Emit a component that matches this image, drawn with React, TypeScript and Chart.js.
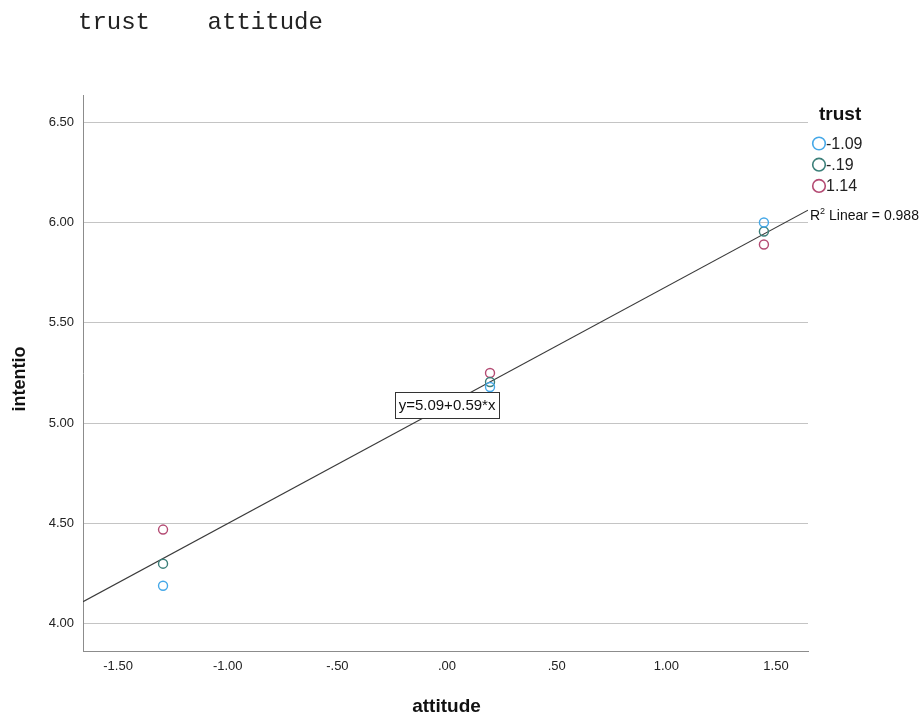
import React, { useEffect, useRef } from "react";
import { Chart, registerables } from "chart.js";

Chart.register(...registerables);

const headerText = "trust    attitude";
const xTitle = "attitude";
const yTitle = "intentio";
const legendTitle = "trust";
const attitudeValues = [-1.295, 0.196, 1.445];
const trustLabels = ["-1.09", "-.19", "1.14"];
const intentLowTrust = [4.19, 5.18, 6.0];
const intentMidTrust = [4.3, 5.205, 5.955];
const intentHighTrust = [4.47, 5.25, 5.89];
const seriesColors = ["#45a8e8", "#3b7f79", "#b44b73"];
const fitIntercept = 5.09;
const fitSlope = 0.59;
const fitR2 = "0.988";
const xTickValues = [-1.5, -1.0, -0.5, 0, 0.5, 1.0, 1.5];
const xTickLabels = ["-1.50", "-1.00", "-.50", ".00", ".50", "1.00", "1.50"];
const yTickValues = [4.0, 4.5, 5.0, 5.5, 6.0, 6.5];
const yTickLabels = ["4.00", "4.50", "5.00", "5.50", "6.00", "6.50"];
const xRange = [-1.66, 1.646];
const yRange = [3.865, 6.635];

const seriesValues = [intentLowTrust, intentMidTrust, intentHighTrust];
const SANS = '"Liberation Sans", Arial, sans-serif';

export default function App() {
  const ref = useRef<HTMLCanvasElement>(null);

  useEffect(() => {
    const canvas = ref.current;
    if (!canvas) return;

    const pointSets = seriesValues.map((vals, i) => ({
      type: "scatter" as const,
      label: trustLabels[i],
      data: attitudeValues.map((x, j) => ({ x, y: vals[j] })),
      backgroundColor: "rgba(0,0,0,0)",
      borderColor: seriesColors[i],
      borderWidth: 1.4,
      pointRadius: 4.5,
      pointHoverRadius: 4.5,
      order: 1,
    }));

    const fitLine = {
      type: "line" as const,
      label: "fit",
      data: xRange.map((x) => ({ x, y: fitIntercept + fitSlope * x })),
      borderColor: "#3a3a3a",
      borderWidth: 1.2,
      pointRadius: 0,
      showLine: true,
      fill: false,
      order: 10,
    };

    const overlay = {
      id: "overlay",
      afterDatasetsDraw(chart: any) {
        const ctx = chart.ctx as CanvasRenderingContext2D;
        const xs = chart.scales.x;
        const ys = chart.scales.y;
        const cx = xs.getPixelForValue(0);
        const cy = ys.getPixelForValue(fitIntercept);
        const eq = `y=${fitIntercept.toFixed(2)}+${fitSlope.toFixed(2)}*x`;
        ctx.save();
        ctx.font = `15px ${SANS}`;
        const w = Math.round(ctx.measureText(eq).width + 7);
        const h = 26;
        const bx = Math.round(cx - w / 2) + 0.5;
        const by = Math.round(cy - h / 2) + 0.5;
        ctx.fillStyle = "#ffffff";
        ctx.fillRect(bx, by, w, h);
        ctx.strokeStyle = "#333";
        ctx.lineWidth = 1;
        ctx.strokeRect(bx, by, w, h);
        ctx.fillStyle = "#111";
        ctx.textAlign = "center";
        ctx.textBaseline = "middle";
        ctx.fillText(eq, cx, cy + 1);
        ctx.restore();
      },
      afterDraw(chart: any) {
        const ctx = chart.ctx as CanvasRenderingContext2D;
        const area = chart.chartArea;
        ctx.save();
        // header
        ctx.font = '24px "Liberation Mono", "Courier New", monospace';
        ctx.fillStyle = "#222";
        ctx.textBaseline = "alphabetic";
        ctx.textAlign = "left";
        ctx.fillText(headerText, 78, 29);
        // y axis title
        ctx.save();
        ctx.translate(20, 379);
        ctx.rotate(-Math.PI / 2);
        ctx.font = `bold 18px ${SANS}`;
        ctx.fillStyle = "#111";
        ctx.textAlign = "center";
        ctx.textBaseline = "middle";
        ctx.fillText(yTitle, 0, 0);
        ctx.restore();
        // x axis title
        ctx.font = `bold 19px ${SANS}`;
        ctx.fillStyle = "#111";
        ctx.textAlign = "center";
        ctx.textBaseline = "alphabetic";
        ctx.fillText(xTitle, (area.left + area.right) / 2 + 1, 712);
        // legend
        ctx.textAlign = "left";
        const lx = area.right;
        ctx.font = `bold 19px ${SANS}`;
        ctx.textBaseline = "middle";
        ctx.fillText(legendTitle, lx + 11, 115);
        ctx.font = `16px ${SANS}`;
        chart.data.datasets.forEach((ds: any, i: number) => {
          if (ds.type !== "scatter") return;
          const y = 143.5 + i * 21.2;
          ctx.beginPath();
          ctx.arc(lx + 11, y, 6.3, 0, Math.PI * 2);
          ctx.strokeStyle = ds.borderColor;
          ctx.lineWidth = 1.6;
          ctx.stroke();
          ctx.fillStyle = "#222";
          ctx.fillText(ds.label, lx + 18, y + 1);
        });
        // R2 label
        const ry = 220;
        const rx = area.right + 2;
        ctx.textBaseline = "alphabetic";
        ctx.font = `14px ${SANS}`;
        ctx.fillStyle = "#111";
        ctx.fillText("R", rx, ry);
        const rw = ctx.measureText("R").width;
        ctx.font = `9px ${SANS}`;
        ctx.fillText("2", rx + rw, ry - 6);
        const sw = ctx.measureText("2").width;
        ctx.font = `14px ${SANS}`;
        ctx.fillText(` Linear = ${fitR2}`, rx + rw + sw, ry);
        ctx.restore();
      },
    };

    const chart = new Chart(canvas, {
      type: "scatter",
      data: { datasets: [...pointSets, fitLine] as any },
      options: {
        animation: false,
        responsive: false,
        devicePixelRatio: 1,
        layout: { padding: { top: 95, left: 0, right: 114, bottom: 0 } },
        plugins: {
          legend: { display: false },
          tooltip: { enabled: false },
        },
        scales: {
          x: {
            type: "linear",
            min: xRange[0],
            max: xRange[1],
            afterBuildTicks: (s: any) => {
              s.ticks = xTickValues.map((v) => ({ value: v }));
            },
            afterFit: (s: any) => {
              s.height = 65;
            },
            grid: { display: false, drawTicks: false },
            border: { display: true, color: "#8c8c8c", width: 1 },
            ticks: {
              padding: 8,
              color: "#222",
              font: { size: 13, family: SANS },
              callback: (v: any) => {
                const idx = xTickValues.findIndex((t) => Math.abs(t - v) < 1e-9);
                return idx >= 0 ? xTickLabels[idx] : "";
              },
              maxRotation: 0,
              autoSkip: false,
            },
          },
          y: {
            type: "linear",
            min: yRange[0],
            max: yRange[1],
            afterBuildTicks: (s: any) => {
              s.ticks = yTickValues.map((v) => ({ value: v }));
            },
            afterFit: (s: any) => {
              s.width = 83;
            },
            grid: { display: true, drawTicks: false, color: "#c4c4c4", lineWidth: 1 },
            border: { display: true, color: "#8c8c8c", width: 1 },
            ticks: {
              padding: 9,
              color: "#222",
              font: { size: 13, family: SANS },
              callback: (v: any) => {
                const idx = yTickValues.findIndex((t) => Math.abs(t - v) < 1e-9);
                return idx >= 0 ? yTickLabels[idx] : "";
              },
              autoSkip: false,
            },
          },
        },
      },
      plugins: [overlay],
    });

    return () => chart.destroy();
  }, []);

  return (
    <div style={{ position: "absolute", left: 0, top: 0, width: 922, height: 716, background: "#fff" }}>
      <canvas ref={ref} width={922} height={716} style={{ display: "block", width: 922, height: 716 }} />
    </div>
  );
}
